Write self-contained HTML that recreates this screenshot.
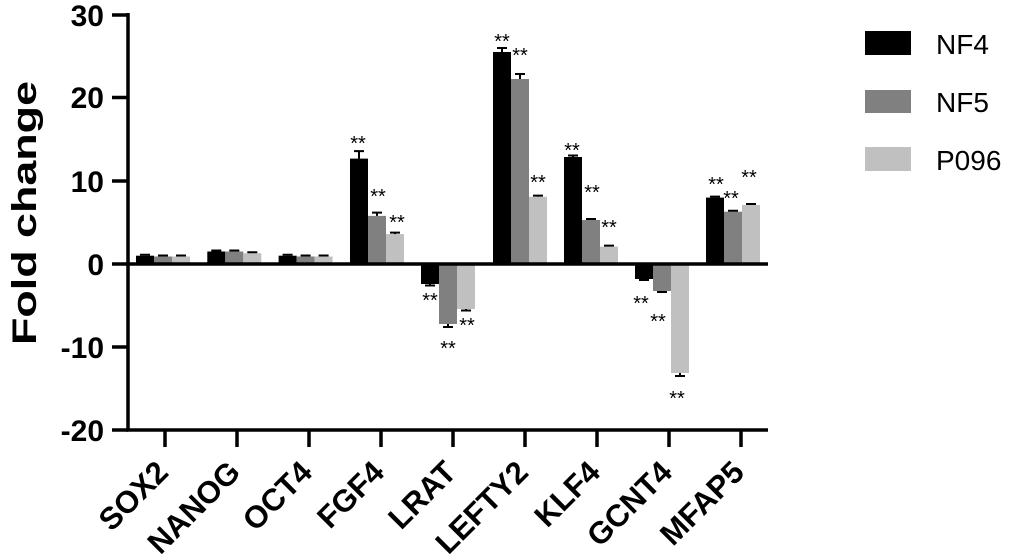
<!DOCTYPE html>
<html><head><meta charset="utf-8"><style>
html,body{margin:0;padding:0;background:#fff;}
svg{display:block;font-family:"Liberation Sans",Arial,sans-serif;}
</style></head><body>
<svg width="1020" height="560" viewBox="0 0 1020 560">
<g fill="#000">
<rect x="136" y="255.7" width="18" height="8.3"/>
<rect x="154" y="256.5" width="18" height="7.5" fill="#808080"/>
<rect x="172" y="256.5" width="18" height="7.5" fill="#c0c0c0"/>
<rect x="207.3" y="251.5" width="18" height="12.5"/>
<rect x="225.3" y="251.5" width="18" height="12.5" fill="#808080"/>
<rect x="243.3" y="253.2" width="18" height="10.8" fill="#c0c0c0"/>
<rect x="278.6" y="255.7" width="18" height="8.3"/>
<rect x="296.6" y="256.5" width="18" height="7.5" fill="#808080"/>
<rect x="314.6" y="256.5" width="18" height="7.5" fill="#c0c0c0"/>
<rect x="350" y="158.6" width="18" height="105.4"/>
<rect x="368" y="215.9" width="18" height="48.1" fill="#808080"/>
<rect x="386" y="234.1" width="18" height="29.9" fill="#c0c0c0"/>
<rect x="421" y="264" width="18" height="20"/>
<rect x="439" y="264" width="18" height="60" fill="#808080"/>
<rect x="457" y="264" width="18" height="45" fill="#c0c0c0"/>
<rect x="493" y="52" width="18" height="212"/>
<rect x="511" y="79" width="18" height="185" fill="#808080"/>
<rect x="529" y="196.8" width="18" height="67.2" fill="#c0c0c0"/>
<rect x="564" y="157" width="18" height="107"/>
<rect x="582" y="220" width="18" height="44" fill="#808080"/>
<rect x="600" y="246.6" width="18" height="17.4" fill="#c0c0c0"/>
<rect x="635" y="264" width="18" height="15"/>
<rect x="653" y="264" width="18" height="27" fill="#808080"/>
<rect x="671" y="264" width="18" height="109" fill="#c0c0c0"/>
<rect x="706" y="197.6" width="18" height="66.4"/>
<rect x="724" y="211.7" width="18" height="52.3" fill="#808080"/>
<rect x="742" y="205" width="18" height="59" fill="#c0c0c0"/>
</g>
<g stroke="#000" stroke-width="2" fill="none">
<path d="M145 255.7v-1M140 254.7h10M163 256.5v-1M158 255.5h10M181 256.5v-1M176 255.5h10"/>
<path d="M216.3 251.5v-1M211.3 250.5h10M234.3 251.5v-1M229.3 250.5h10M252.3 253.2v-1M247.3 252.2h10"/>
<path d="M287.6 255.7v-1M282.6 254.7h10M305.6 256.5v-1M300.6 255.5h10M323.6 256.5v-1M318.6 255.5h10"/>
<path d="M359 158.6v-7.5M354 151.1h10M377 215.9v-3.3M372 212.6h10M395 234.1v-1.5M390 232.6h10"/>
<path d="M430 284v1.5M425 285.5h10M448 324v3M443 327h10M466 309v1.5M461 310.5h10"/>
<path d="M502 52v-4M497 48h10M520 79v-5M515 74h10M538 196.8v-1.2M533 195.6h10"/>
<path d="M573 157v-1.5M568 155.5h10M591 220v-1M586 219h10M609 246.6v-1M604 245.6h10"/>
<path d="M644 279v1M639 280h10M662 291v1M657 292h10M680 373v3M675 376h10"/>
<path d="M715 197.6v-1M710 196.6h10M733 211.7v-1M728 210.7h10M751 205v-1M746 204h10"/>
</g>
<g stroke="#000" stroke-width="3.5" fill="none">
<path d="M128 13V430M112 15H128M112 97.5H128M112 181H128M112 264H128M112 347H128M112 430H128"/>
<path d="M126 264H768M126 430H768"/>
<path d="M165 430v17M237 430v17M309 430v17M381 430v17M453 430v17M525 430v17M597 430v17M669 430v17M741 430v17"/>
</g>
<g font-size="30" font-weight="bold" text-anchor="end">
<text x="104" y="26">30</text>
<text x="104" y="108">20</text>
<text x="104" y="192">10</text>
<text x="104" y="275">0</text>
<text x="104" y="358">-10</text>
<text x="104" y="441">-20</text>
</g>
<text transform="translate(36,213) rotate(-90)" text-anchor="middle" font-size="34" font-weight="bold" textLength="264" lengthAdjust="spacingAndGlyphs">Fold change</text>
<g font-size="31" font-weight="bold" text-anchor="end">
<text transform="translate(170,474) rotate(-45)">SOX2</text>
<text transform="translate(242,474) rotate(-45)">NANOG</text>
<text transform="translate(314,474) rotate(-45)">OCT4</text>
<text transform="translate(386,474) rotate(-45)">FGF4</text>
<text transform="translate(458,474) rotate(-45)">LRAT</text>
<text transform="translate(530,474) rotate(-45)">LEFTY2</text>
<text transform="translate(602,474) rotate(-45)">KLF4</text>
<text transform="translate(674,474) rotate(-45)">GCNT4</text>
<text transform="translate(746,474) rotate(-45)">MFAP5</text>
</g>
<g font-size="20" text-anchor="middle">
<text x="358" y="150">**</text><text x="378" y="203">**</text><text x="397" y="229">**</text>
<text x="430" y="307">**</text><text x="448" y="355">**</text><text x="467" y="332">**</text>
<text x="502" y="48">**</text><text x="520" y="62">**</text><text x="538" y="189">**</text>
<text x="572" y="157">**</text><text x="592" y="199">**</text><text x="609" y="234">**</text>
<text x="641" y="310">**</text><text x="658" y="328">**</text><text x="677" y="405">**</text>
<text x="716" y="191">**</text><text x="731" y="205">**</text><text x="749" y="184">**</text>
</g>
<rect x="865" y="31" width="46" height="24" fill="#000"/>
<rect x="865" y="90" width="46" height="23" fill="#808080"/>
<rect x="865" y="147" width="46" height="24" fill="#c0c0c0"/>
<g font-size="28">
<text x="936" y="54">NF4</text>
<text x="936" y="112">NF5</text>
<text x="936" y="170">P096</text>
</g>
</svg>
</body></html>
